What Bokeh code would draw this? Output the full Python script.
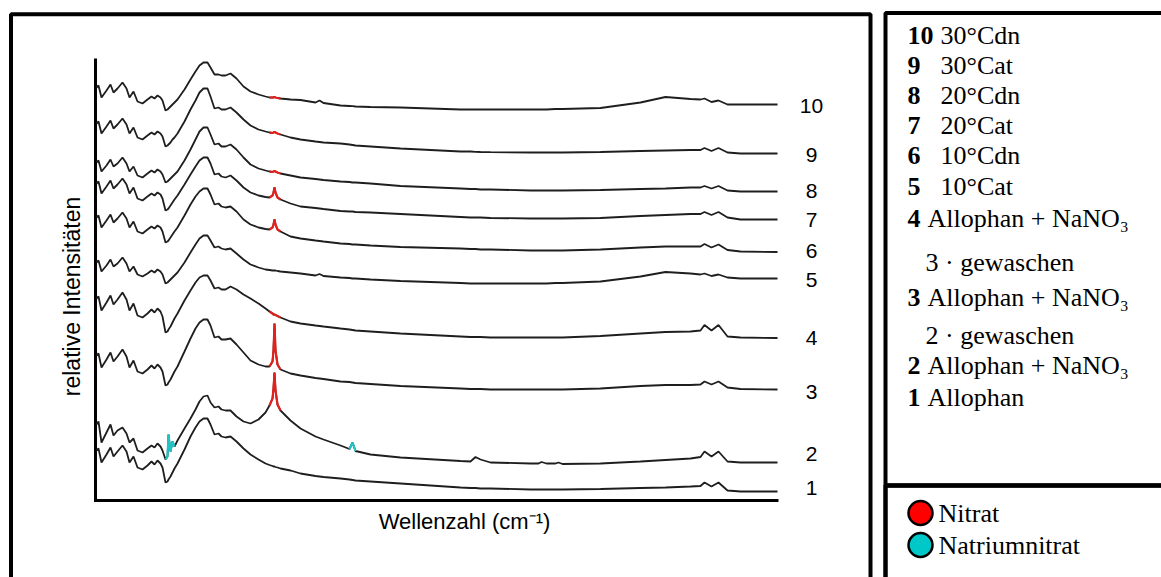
import math
from bokeh.plotting import figure
from bokeh.models import Range1d
from bokeh.embed import file_html
from bokeh.resources import INLINE
from bokeh.core.properties import value

# ---------------- data ----------------
wellenzahl = [96, 98, 101, 106, 110, 113, 117, 122, 126, 129,
              133, 137, 142, 147, 151, 154, 157, 160, 162, 165,
              167, 168, 170, 172, 174, 177, 184, 190, 195, 199,
              203, 207, 210, 214, 218, 221, 225, 230, 236, 243,
              250, 258, 265, 269, 272, 273, 274, 275, 277, 280,
              290, 300, 315, 319, 323, 340, 349, 352, 355, 370,
              400, 460, 470, 475, 480, 490, 530, 538, 541, 546,
              555, 558, 562, 600, 640, 665, 690, 700, 704, 711,
              718, 727, 740, 777]

s10 = [413, 415, 403, 410, 416, 408, 412, 418, 412, 403,
       409, 399, 397, 401, 404, 402, 405, 403, 400, 390,
       391, 392, 394, 396, 398, 401, 411, 421, 429, 435,
       438, 438, 433, 426, 426, 425, 425, 427, 422, 414,
       409, 406, 404, 403, 403, 403, 403.5, 403, 402.5, 402,
       401, 400.5, 398, 400, 397.5, 395, 394.5, 394.3, 394, 393.5,
       393, 391, 391, 391, 391, 391, 391, 391, 391, 391,
       391.5, 391.5, 391.5, 392.5, 398, 403.5, 401.5, 401, 402, 398.5,
       400, 396, 396, 396]
s9 = [377, 379, 367, 374, 380, 372, 376, 382, 376, 367,
      373, 363, 361, 365, 368, 366, 369, 367, 364, 354,
      355, 356, 358, 361, 363, 367, 379, 391, 400, 408,
      412, 412, 404, 392, 393, 391, 391, 393, 388, 381,
      375, 371, 369, 368, 367.5, 368, 368.5, 368, 367, 366,
      363, 361, 359, 358.5, 358, 357, 356, 355.5, 355, 354,
      352, 349, 349, 348.7, 348.5, 348.3, 348, 348, 348, 348,
      348, 348, 348, 348.5, 349.5, 350, 350.5, 350.5, 352.5, 349.5,
      352.5, 348, 347, 347]
s8 = [338, 340, 329, 335, 341, 334, 337, 343, 337, 329,
      334, 325, 323, 327, 330, 328, 331, 329, 326, 318,
      319, 320, 322, 324, 326, 329, 340, 351, 361, 369,
      373, 373, 366, 356, 357, 354, 354, 356, 351, 343,
      336, 332, 330, 329, 328.5, 329, 329.5, 329, 328, 327,
      325, 323, 321.5, 321, 320.5, 319, 318.5, 318, 318, 317,
      314.5, 312, 311.5, 311.5, 311, 311, 310, 310, 310, 310,
      310, 310, 310, 310.5, 311.5, 312, 313, 313, 314.5, 312,
      314.5, 310, 309, 309]
s7 = [317, 319, 307, 314, 320, 312, 316, 322, 316, 307,
      313, 302, 300, 304, 307, 305, 308, 306, 302, 290,
      291, 292, 295, 298, 301, 305, 316, 326, 334, 340,
      343, 343, 337, 326, 327, 324, 323, 325, 320, 313,
      308, 305, 303.5, 303, 305, 308, 313, 308, 303, 301,
      297, 294, 292.5, 292, 291.5, 289.5, 289, 289, 288.5, 288,
      286.5, 283.5, 283, 283, 283, 282.5, 282, 282, 282, 282,
      282, 282, 282, 282.5, 284.5, 285.5, 286.5, 286.5, 288.5, 285.5,
      288.5, 283, 281, 281]
s6 = [283, 285, 273, 280, 286, 278, 282, 288, 282, 273,
      279, 269, 267, 271, 274, 272, 275, 273, 269, 258,
      259, 260, 263, 266, 269, 273, 285, 296, 304, 309,
      312, 312, 306, 296, 297, 294, 293, 294, 289, 281,
      276, 273, 271.5, 271, 273, 276, 281, 276, 271, 269,
      264, 262, 260, 259.5, 259, 257, 256.5, 256, 256, 255,
      253.5, 252, 251.5, 251.5, 251, 251, 250, 250, 250, 250,
      250, 250, 250, 251, 253, 254, 254, 254, 256.5, 253,
      256, 250.5, 249, 248.5]
s5 = [238, 240, 229, 235, 241, 234, 237, 243, 237, 229,
      234, 226, 224, 227, 230, 228, 231, 229, 226, 217,
      218, 219, 221, 223, 225, 228, 238, 248, 256, 262,
      265, 265, 260, 253, 254, 252, 251, 252, 247, 241,
      236, 233, 231, 230.5, 230, 230, 230, 230, 229.5, 229,
      228, 227, 225, 226.5, 224.5, 223, 222.5, 222, 222, 221,
      219.5, 217.5, 217, 217, 217, 217, 217, 217, 217, 217,
      217.5, 217.5, 217.5, 219, 224, 228.5, 227, 226, 227, 224.5,
      226, 223, 222, 222]
s4 = [202, 204, 190, 198, 205, 196, 201, 208, 201, 190,
      197, 185, 183, 187, 191, 188, 192, 189, 184, 168,
      169, 171, 174, 178, 182, 187, 200, 210, 218, 223,
      225, 225, 220, 212, 213, 211, 211, 214, 211, 206,
      202, 197, 192, 189, 187, 186, 186, 185.5, 184.5, 183,
      179, 177, 175, 174.5, 174, 172, 171, 170.5, 170, 169,
      167, 164, 163.5, 163.5, 163.5, 163, 163, 163, 163, 163,
      163, 163, 163, 164.5, 167, 168.5, 169, 170, 175.5, 170,
      175.5, 164, 163, 162.5]
s3 = [145, 147, 133, 141, 148, 139, 144, 151, 144, 133,
      140, 129, 127, 131, 135, 132, 136, 133, 129, 115,
      116, 118, 121, 125, 129, 134, 149, 162, 172, 178,
      181, 181, 175, 163, 164, 161, 161, 162, 156, 148,
      140, 136, 134, 134, 139, 150, 177, 150, 136, 131,
      127, 125, 122.5, 122, 121.5, 119, 118.5, 118, 117.5, 116.5,
      114.5, 112, 111.5, 111.5, 111.5, 111, 111, 111, 111, 111,
      111, 111, 111, 112, 114.5, 115.5, 115.5, 116, 119, 116,
      119, 113, 111.5, 111]
s2 = [76, 79, 58, 68, 76, 65, 70, 73, 67, 58,
      62, 50, 48, 52, 55, 53, 57, 54, 50, 41,
      44, 66, 49, 59, 54, 60, 72, 82, 91, 99,
      104, 105, 98, 93, 94, 91, 90, 90, 84, 79,
      77, 81, 88, 95, 102, 112, 128, 110, 96, 90,
      80, 72, 64, 62.5, 61, 55, 51.5, 58, 49.5, 46,
      43, 39.5, 39, 43.5, 41, 38, 37, 37, 38.5, 37,
      37, 38, 36.5, 37, 39, 40.5, 42, 43.5, 49, 44,
      49, 39, 38, 38]
s1 = [50, 52, 38, 46, 53, 44, 49, 55, 49, 38,
      44, 33, 31, 35, 39, 36, 40, 37, 33, 18,
      19, 21, 24, 28, 32, 37, 51, 64, 73, 79,
      82, 82, 76, 66, 67, 64, 63, 64, 59, 52,
      46, 41, 37, 35.5, 34.5, 34, 34, 33.5, 33, 32,
      30, 27, 24.5, 24, 23.5, 22, 21, 20.5, 20, 19,
      17, 13, 12.5, 12.5, 12, 12, 11, 11, 11, 11,
      11, 11, 11, 11.5, 12.5, 13, 14, 14.5, 18, 14,
      18, 10, 9, 9]

spectra = [s1, s2, s3, s4, s5, s6, s7, s8, s9, s10]
spectrum_labels = ["1", "2", "3", "4", "5", "6", "7", "8", "9", "10"]
spectrum_label_y = [13, 47, 109, 163, 221, 250, 281, 310, 346, 395]

nitrat_spectra = [2, 3, 4, 6, 7, 8, 9, 10]      # red bands
nitrat_band = (268, 281)
natriumnitrat_spectra = [2]                    # cyan bands
natriumnitrat_bands = [(164, 175), (348, 356)]

legend_numbers = ["10", "9", "8", "7", "6", "5", "4", "", "3", "", "2", "1"]
legend_texts = ["30°Cdn", "30°Cat", "20°Cdn", "20°Cat", "10°Cdn", "10°Cat",
                "Allophan + NaNO₃", "3 · gewaschen", "Allophan + NaNO₃",
                "2 · gewaschen", "Allophan + NaNO₃", "Allophan"]
legend_text_x = [940, 940, 940, 940, 940, 940, 927, 925, 927, 925, 927, 927]
legend_y = [465, 435, 405, 375, 345, 314, 282, 238, 203, 165, 135, 103]

marker_names = ["Nitrat", "Natriumnitrat"]
marker_colors = ["#FF0000", "#00C8C8"]

# ---------------- figure ----------------
W, H = 1161, 577
p = figure(width=W, height=H, x_range=Range1d(0, W), y_range=Range1d(500 - H, 500),
           output_backend="svg", toolbar_location=None, min_border=0,
           x_axis_location=None, y_axis_location=None)
p.outline_line_color = None
p.grid.visible = False
p.background_fill_color = "white"
p.border_fill_color = "white"

# panel frames
p.quad(left=[10.5], right=[870], top=[486.3], bottom=[-300],
       fill_color=None, line_color="black", line_width=4)
p.quad(left=[885], right=[1400], top=[487.5], bottom=[15],
       fill_color=None, line_color="black", line_width=4)
p.quad(left=[885], right=[1400], top=[15], bottom=[-300],
       fill_color=None, line_color="black", line_width=4.5)

# axes (L-shaped)
p.line(x=[95, 95, 778], y=[442, 0, 0], line_color="black", line_width=3, line_join="miter")

# spectra
for s in spectra:
    p.line(x=wellenzahl, y=s, line_color="#1e1e1e", line_width=1.8)


def band(xs, ys, lo, hi):
    bx = [x for x in xs if lo <= x <= hi]
    by = [y for x, y in zip(xs, ys) if lo <= x <= hi]
    return bx, by


for n in nitrat_spectra:
    bx, by = band(wellenzahl, spectra[n - 1], *nitrat_band)
    p.line(x=bx, y=by, line_color="#E3201B", line_width=2.2)
for n in natriumnitrat_spectra:
    for lo, hi in natriumnitrat_bands:
        bx, by = band(wellenzahl, spectra[n - 1], lo, hi)
        p.line(x=bx, y=by, line_color="#1FC4C4", line_width=2.2)

sans = value("Liberation Sans")
serif = value("Liberation Serif")

# axis titles
p.text(x=[71], y=[204], text=["relative Intensitäten"], angle=math.pi / 2,
       text_align="center", text_baseline="alphabetic", text_font=sans,
       text_font_size="23px", text_color="black")
p.text(x=[464], y=[-21], text=["Wellenzahl (cm⁻¹)"],
       text_align="center", text_baseline="alphabetic", text_font=sans,
       text_font_size="22px", text_color="black")

# spectrum numbers
p.text(x=[811] * len(spectrum_labels), y=spectrum_label_y, text=spectrum_labels,
       text_align="center", text_baseline="alphabetic", text_font=sans,
       text_font_size="21px", text_color="black")

# legend
p.text(x=[907] * len(legend_numbers), y=legend_y, text=legend_numbers,
       text_align="left", text_baseline="alphabetic", text_font=serif,
       text_font_style="bold", text_font_size="26px", text_color="black")
p.text(x=legend_text_x, y=legend_y, text=legend_texts,
       text_align="left", text_baseline="alphabetic", text_font=serif,
       text_font_size="26px", text_color="black")

p.scatter(x=[920, 920], y=[-12.5, -44.5], size=24, marker="circle",
          fill_color=marker_colors, line_color="black", line_width=2.5)
p.text(x=[938, 938], y=[-13, -45], text=marker_names,
       text_align="left", text_baseline="alphabetic", text_font=serif,
       text_font_size="26px", text_color="black")

open("out.html", "w").write(file_html(p, INLINE))
